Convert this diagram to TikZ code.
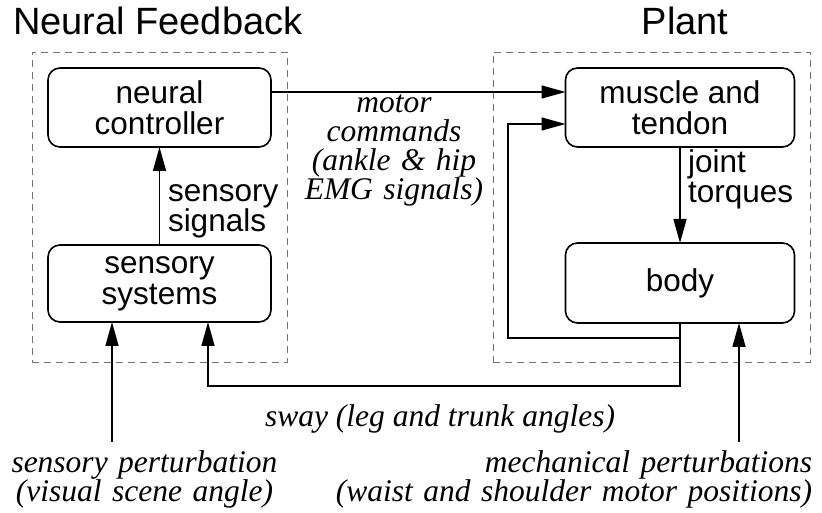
\documentclass[tikz,border=0pt]{standalone}
\usepackage{fontspec}
\setmainfont{Liberation Serif}
\setsansfont{Liberation Sans}
\usetikzlibrary{arrows.meta}
\tikzset{
	basenode/.style = {
		inner sep=0pt,
		outer sep=0pt
	},
	node_box/.style = {
		basenode,
		rectangle,
		rounded corners=12pt,
		draw=black,
		line width=1.6pt,
		align=center,
		font=\sffamily\fontsize{31.5}{31}\selectfont,
		minimum height=79pt
	},
	node_group/.style = {
		basenode,
		rectangle,
		draw=black!55,
		line width=0.9pt,
		dash pattern=on 7pt off 5pt
	},
	node_title/.style = {
		basenode,
		font=\sffamily\fontsize{38}{40}\selectfont
	},
	node_tag/.style = {
		basenode,
		align=left,
		font=\sffamily\fontsize{31.5}{30}\selectfont
	},
	node_note/.style = {
		basenode,
		font=\itshape\fontsize{31.5}{29}\selectfont
	},
}

\begin{document}
\begin{tikzpicture}[x=1pt, y=1pt, line width=1.5pt, >={Triangle[length=24pt,width=13pt]}]
\useasboundingbox (0,0) rectangle (822,513);

% dashed groups and their titles
\node [node_group, minimum width=255pt, minimum height=310pt] (grp_neural) at (159.5,306) {};
\node [node_group, minimum width=317pt, minimum height=310pt] (grp_plant) at (651.5,306) {};
\node [node_title, anchor=base west] (t_neural) at (13,478) {Neural Feedback};
\node [node_title, anchor=base] (t_plant) at (685,478) {Plant};

% blocks
\node [node_box, minimum width=223pt] (ctrl) at (159.5,405.5) {neural\\controller};
\node [node_box, minimum width=223pt, minimum height=77pt] (sens) at (159.5,229.5) {sensory\\systems};
\node [node_box, minimum width=229pt] (musc) at (680,405.5) {muscle and\\tendon};
\node [node_box, minimum width=229pt, minimum height=80pt] (body) at (680,230) {body};

% ends and corners of the connectors
\coordinate (motor_out) at ([yshift=15.5pt]ctrl.east);
\coordinate (motor_in) at (musc.west |- motor_out);
\coordinate (fb_in) at ([yshift=-16.5pt]musc.west);
\coordinate (fb_low) at (508,175);
\coordinate (sway_low) at (208,127);
\coordinate (sway_in) at (sens.south -| sway_low);
\coordinate (sp_in) at ([xshift=-47.5pt]sens.south);
\coordinate (sp_src) at (112,71);
\coordinate (mp_in) at ([xshift=59pt]body.south);
\coordinate (mp_src) at (739,71);

\draw [->] (motor_out) -- (motor_in);
\draw [->] (sens) -- (ctrl);
\draw [->] (musc) -- (body);
\draw [->] (body.south) |- (fb_low) |- (fb_in);
\draw [->] (body.south) |- (sway_low) -- (sway_in);
\draw [->] (sp_src) -- (sp_in);
\draw [->] (mp_src) -- (mp_in);

% labels
\node [node_tag, anchor=base west, text width=120pt] (l_sig) at (168,311) {sensory\\signals};
\node [node_tag, anchor=base west, text width=120pt] (l_torq) at (688,340) {joint\\torques};
\node [node_note, anchor=base, text width=200pt, align=center] (l_motor) at (394,400) {motor\\commands\\(ankle \& hip\\EMG signals)};
\node [node_note, anchor=base] (l_sway) at (440,86) {sway (leg and trunk angles)};
\node [node_note, anchor=base, text width=300pt, align=center] (l_sp) at (144.5,40) {sensory perturbation\\(visual scene angle)};
\node [node_note, anchor=base east, text width=480pt, align=right] (l_mp) at (812,40) {mechanical perturbations\\(waist and shoulder motor positions)};
\end{tikzpicture}
\end{document}
